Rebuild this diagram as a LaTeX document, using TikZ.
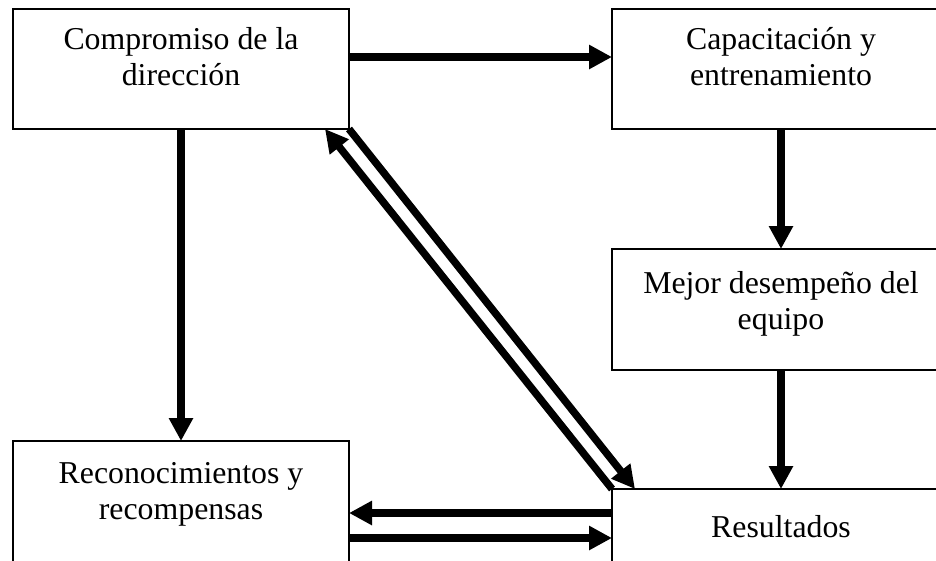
\documentclass[tikz,border=0pt]{standalone}
\usepackage{fontspec}
\setmainfont{Liberation Serif}
\usetikzlibrary{arrows.meta,calc}
\begin{document}
\begin{tikzpicture}[x=1pt,y=-1pt,
  box/.style={draw,line width=1.3pt,inner sep=0pt,outer sep=0pt},
  lbl/.style={anchor=north,align=center,inner sep=0pt,font=\fontsize{31.8}{36.6}\selectfont},
  arr/.style={line width=7.5pt,-{Triangle[length=23pt,width=23pt]}}]
\useasboundingbox (0,0) rectangle (936,560);
\clip (0,0) rectangle (936,560);
% boxes
\node[box,minimum width=336pt,minimum height=120pt] (b1) at (181,69) {};
\node[box,minimum width=338pt,minimum height=120pt] (b2) at (781,69) {};
\node[box,minimum width=338pt,minimum height=121pt] (b3) at (781,309.5) {};
\node[box,minimum width=336pt,minimum height=159pt] (b4) at (181,520.5) {};
\node[box,minimum width=338pt,minimum height=131pt] (b5) at (781,554.5) {};
% texts
\node[lbl] (t1) at (181,27) {Compromiso de la\\dirección};
\node[lbl] (t2) at (781,27) {Capacitación y\\entrenamiento};
\node[lbl] (t3) at (781,271) {Mejor desempeño del\\equipo};
\node[lbl] (t4) at (181,462) {Reconocimientos y\\recompensas};
\node[lbl] (t5) at (781,515) {Resultados};
% connectors
\draw[arr] ($(b1.north east)+(0,48)$) -- ($(b2.north west)+(0,48)$);
\draw[arr] (b2.south) -- (b3.north);
\draw[arr] (b3.south) -- (b5.north);
\draw[arr] (b1.south) -- (b4.north);
\draw[arr] (b1.south east) -- ($(b5.north west)+(23,0)$);
\draw[arr] (b5.north west) -- ($(b1.south east)+(-24,0)$);
\draw[arr] ($(b5.north west)+(0,24)$) -- ($(b4.north east)+(0,72)$);
\draw[arr] ($(b4.north east)+(0,97)$) -- ($(b5.north west)+(0,49)$);
\end{tikzpicture}
\end{document}
